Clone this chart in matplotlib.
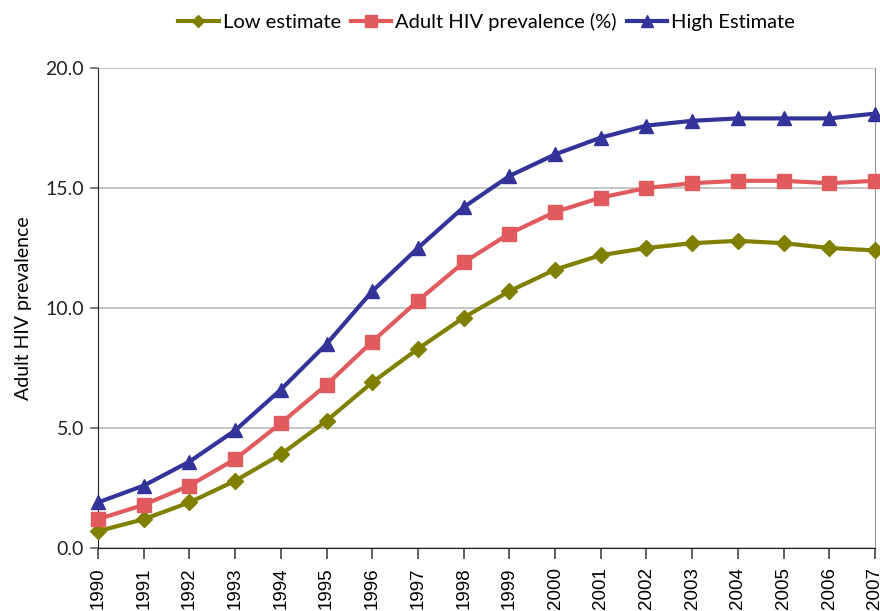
import numpy as np
import matplotlib.pyplot as plt

years = list(range(1990, 2008))

low_est  = [0.7, 1.2, 1.9, 2.8, 3.9, 5.3, 6.9, 8.3, 9.6, 10.7, 11.6, 12.2, 12.5, 12.7, 12.8, 12.7, 12.5, 12.4]
adult    = [1.2, 1.8, 2.6, 3.7, 5.2, 6.8, 8.6, 10.3, 11.9, 13.1, 14.0, 14.6, 15.0, 15.2, 15.3, 15.3, 15.2, 15.3]
high_est = [1.9, 2.6, 3.6, 4.9, 6.6, 8.5, 10.7, 12.5, 14.2, 15.5, 16.4, 17.1, 17.6, 17.8, 17.9, 17.9, 17.9, 18.1]

series_names = ['Low estimate', 'Adult HIV prevalence (%)', 'High Estimate']
yticks = [0, 5, 10, 15, 20]

plt.rcParams['font.family'] = ['Lato', 'DejaVu Sans']

fig = plt.figure(figsize=(8.8, 6.11), dpi=100)
ax = fig.add_axes([0.1114, 0.1031, 0.8829, 0.7856])

ax.plot(years, low_est, color='#808000', lw=3, marker='D', ms=8,
        label=series_names[0], clip_on=False, zorder=3)
ax.plot(years, adult, color='#E05A5E', lw=3, marker='s', ms=10,
        label=series_names[1], clip_on=False, zorder=3)
ax.plot(years, high_est, color='#333399', lw=3, marker='^', ms=10,
        label=series_names[2], clip_on=False, zorder=3)

ax.set_xlim(1990, 2007)
ax.set_ylim(0, 20)
ax.set_yticks(yticks)
ax.set_yticklabels(['%.1f' % v for v in yticks], fontsize=14, color='#222222')
ax.set_xticks(years)
ax.set_xticklabels([str(y) for y in years], rotation=90, fontsize=13.5,
                   family='Liberation Sans')
ax.grid(axis='y', color='#BBBBBB', lw=1.2)
ax.set_axisbelow(True)

ax.spines['top'].set_visible(False)
ax.spines['right'].set_color('#999999')
ax.spines['left'].set_color('#222222')
ax.spines['bottom'].set_color('#222222')
ax.tick_params(axis='y', length=6, width=1.2, color='#666666', pad=4)
ax.tick_params(axis='x', length=8, width=1.2, color='#444444', pad=6)

ax.set_ylabel('Adult HIV prevalence', fontsize=14, labelpad=10)

ax.legend(loc='upper center', bbox_to_anchor=(0.50, 1.153), ncol=3, frameon=False,
          fontsize=14.5, handlelength=2.0, handletextpad=0.2, columnspacing=0.5,
          markerscale=0.8)

fig.savefig('out.png', dpi=100)
